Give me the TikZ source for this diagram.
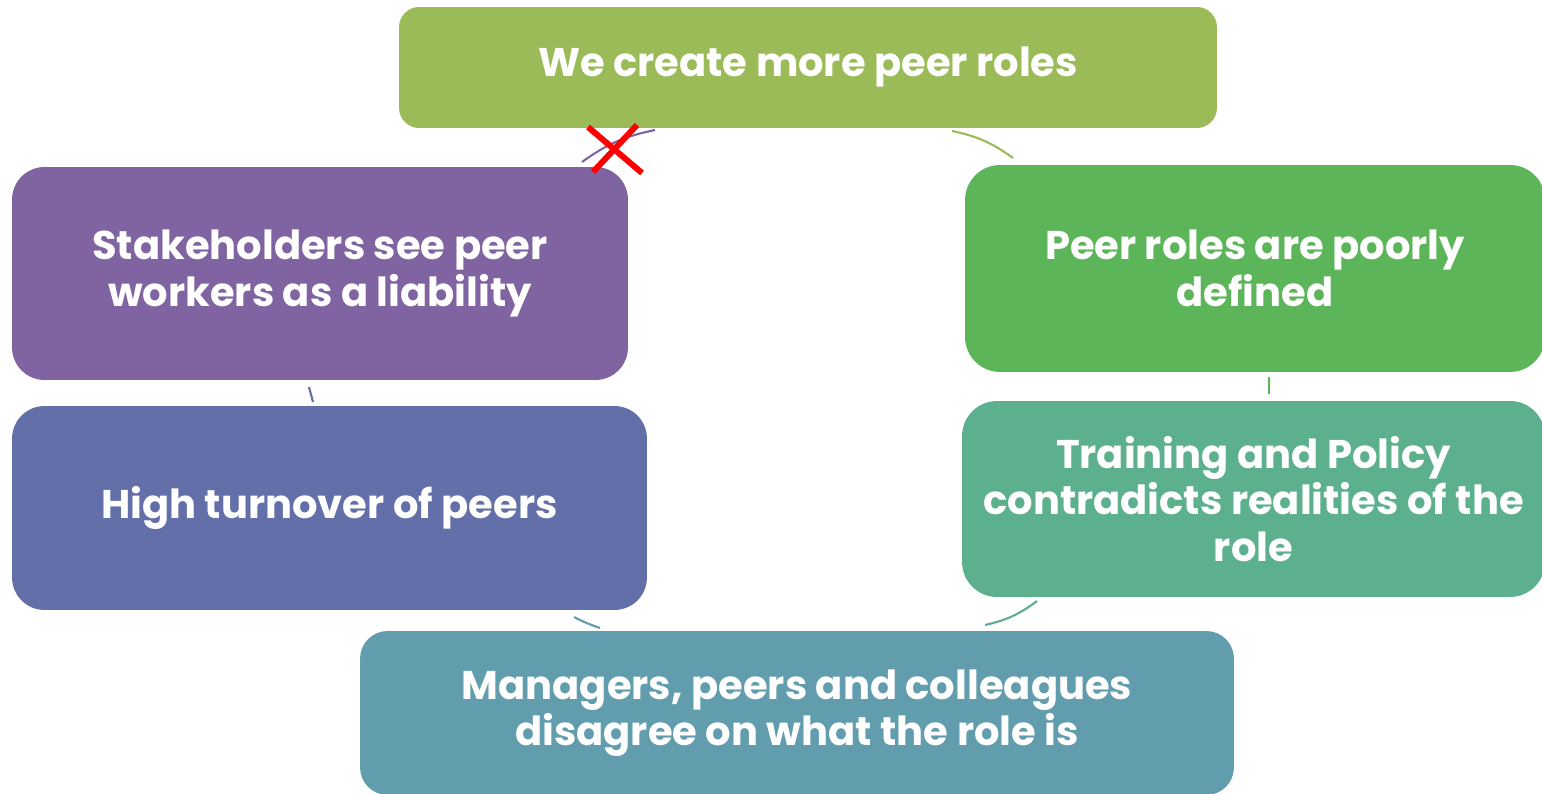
\documentclass[tikz,border=0pt]{standalone}
\usepackage{fontspec}
\setmainfont{Poppins}
\definecolor{cOlive}{HTML}{9BBB59}
\definecolor{cGreen}{HTML}{5DB55A}
\definecolor{cSea}{HTML}{5DB08E}
\definecolor{cTeal}{HTML}{619DAD}
\definecolor{cBlue}{HTML}{636FA8}
\definecolor{cPurple}{HTML}{8064A2}
\begin{document}
\begin{tikzpicture}[x=0.02cm,y=-0.02cm,
  stage/.style={fill=#1, text=white, align=center, inner sep=0pt,
    font=\bfseries\fontsize{22.8}{26.5}\selectfont,
    execute at begin node={\vspace*{4.5pt}}},
  link/.style={draw=#1, line width=1.2pt}]
\useasboundingbox (0,0) rectangle (1542,794);
\clip (0,0) rectangle (1542,794);
% the six stages of the cycle
\node[stage=cOlive, minimum width=16.36cm, minimum height=2.42cm, rounded corners=0.4cm] (create) at (808,67.5) {We create more peer roles};
\node[stage=cGreen, minimum width=11.6cm, minimum height=4.14cm, rounded corners=0.7cm] (defined) at (1255,268.5) {Peer roles are poorly\\defined};
\node[stage=cSea, minimum width=11.66cm, minimum height=3.92cm, rounded corners=0.7cm] (training) at (1253.5,499) {Training and Policy\\contradicts realities of the\\role};
\node[stage=cTeal, minimum width=17.48cm, minimum height=3.28cm, rounded corners=0.55cm] (managers) at (797,713) {Managers, peers and colleagues\\disagree on what the role is};
\node[stage=cBlue, minimum width=12.7cm, minimum height=4.08cm, rounded corners=0.65cm] (turnover) at (329.5,508) {High turnover of peers};
\node[stage=cPurple, minimum width=12.32cm, minimum height=4.26cm, rounded corners=0.65cm] (liability) at (320,273.5) {Stakeholders see peer\\workers as a liability};
% arc pieces between the stages
\coordinate (a1) at (952,131); \coordinate (b1) at (1013,158);
\coordinate (a2) at (1269,377); \coordinate (b2) at (1269,394);
\coordinate (a3) at (1037,601); \coordinate (b3) at (985,625);
\coordinate (a4) at (600,628); \coordinate (b4) at (574,617);
\coordinate (a5) at (313,402); \coordinate (b5) at (309,387);
\coordinate (a6) at (582,162); \coordinate (b6) at (655,130);
\draw[link=cOlive] (a1) to[bend left=12] (b1);
\draw[link=cGreen] (a2) -- (b2);
\draw[link=cSea] (a3) to[bend left=12] (b3);
\draw[link=cTeal] (a4) to[bend left=4] (b4);
\draw[link=cBlue] (a5) -- (b5);
\draw[link=cPurple] (a6) to[bend left=12] (b6);
% crossed out
\coordinate (x1) at (588,127); \coordinate (x2) at (642,173);
\coordinate (x3) at (637,125); \coordinate (x4) at (593,172);
\draw[red, line width=3.4pt] (x1) -- (x2) (x3) -- (x4);
\end{tikzpicture}
\end{document}
